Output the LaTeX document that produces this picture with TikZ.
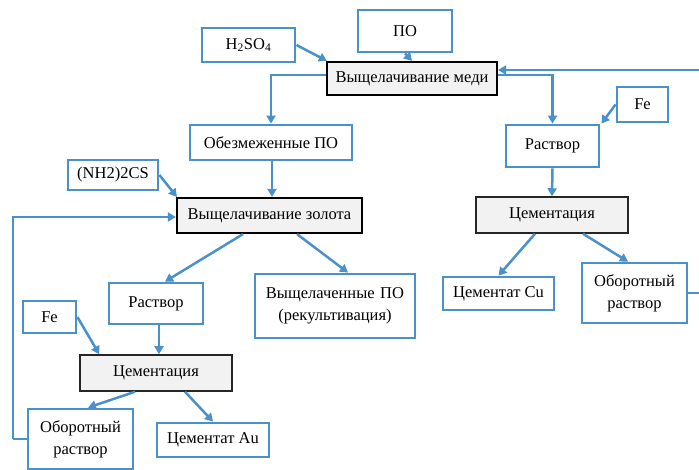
\documentclass[tikz,border=0pt]{standalone}
\usepackage{fontspec}
\setmainfont{Liberation Serif}
\usetikzlibrary{arrows.meta}
\definecolor{flowblue}{RGB}{74,144,202}
\definecolor{procgray}{RGB}{242,242,242}
\begin{document}
\begin{tikzpicture}[x=1pt,y=-1pt,
  every node/.style={font=\fontsize{16.5}{18}\selectfont, inner sep=0pt, align=center},
  itembox/.style={draw=flowblue, line width=2.8pt, fill=white},
  leachbox/.style={draw=black, line width=2.2pt, fill=procgray},
  cembox/.style={draw=black!85, line width=1.5pt, fill=procgray},
  flow/.style={draw=flowblue, line width=2.5pt, -{Triangle[length=8pt,width=9pt]}},
  link/.style={draw=flowblue, line width=2.5pt}]
\useasboundingbox (0,0) rectangle (699,470);

% copper leaching branch
\node[itembox, minimum width=94pt, minimum height=42pt] (po) at (405,31) {ПО};
\node[itembox, minimum width=93pt, minimum height=34pt] (h2so4) at (248.5,45) {H\textsubscript{2}SO\textsubscript{4}};
\node[leachbox, minimum width=170pt, minimum height=33pt] (medi) at (412,78.5) {Выщелачивание меди};
\node[itembox, minimum width=51pt, minimum height=35pt] (feR) at (642.5,104.5) {Fe};
\node[itembox, minimum width=93pt, minimum height=42pt] (rastR) at (552.5,146) {Раствор};
\node[cembox, minimum width=152pt, minimum height=36pt] (cemR) at (552,215) {Цементация};
\node[itembox, minimum width=111pt, minimum height=33pt] (cemCu) at (498.5,293.5) {Цементат Cu};
\node[itembox, minimum width=105pt, minimum height=60pt, text width=100pt] (oborR) at (634.5,293) {Оборотный\\[4pt]раствор};

% gold leaching branch
\node[itembox, minimum width=162pt, minimum height=35pt] (obez) at (271,142.5) {Обезмеженные ПО};
\node[itembox, minimum width=90pt, minimum height=30pt] (nh) at (113,175) {(NH2)2CS};
\node[leachbox, minimum width=185pt, minimum height=35pt] (zolota) at (269.5,215.5) {Выщелачивание золота};
\node[itembox, minimum width=94pt, minimum height=41pt] (rastL) at (156,303.5) {Раствор};
\node[itembox, minimum width=160pt, minimum height=64pt, text width=156pt] (vysh) at (335,306) {Выщелаченные ПО\\[4pt](рекультивация)};
\node[itembox, minimum width=53pt, minimum height=32pt] (feL) at (49.5,317) {Fe};
\node[cembox, minimum width=152pt, minimum height=36pt] (cemL) at (156,373) {Цементация};
\node[itembox, minimum width=105pt, minimum height=60pt, text width=100pt] (oborL) at (80.5,439) {Оборотный\\[4pt]раствор};
\node[itembox, minimum width=112pt, minimum height=34pt] (cemAu) at (213,440) {Цементат Au};

% return loops
\coordinate (rloop) at (708,70);
\coordinate (lloop) at (13,439);

% connectors: copper
\path[flow] (po.south) -- (medi.north);
\path[flow] (h2so4.east) -- ([xshift=1pt]medi.north west);
\path[flow] ([yshift=3.5pt]medi.west) -| (obez.north);
\path[flow] ([yshift=3.5pt]medi.east) -| (rastR.north);
\path[flow] (feR.west) -- ([xshift=1pt]rastR.north east);
\path[flow] (rastR.south) -- (cemR.north);
\path[flow] ([xshift=-17pt]cemR.south) -- (cemCu.north);
\path[flow] ([xshift=31pt]cemR.south) -- ([xshift=-6.5pt]oborR.north);
\path[link] (oborR.east) -| (rloop);
\path[flow] (rloop) -- ([yshift=8.5pt]medi.east);

% connectors: gold
\path[flow] ([xshift=1pt]obez.south) -- ([xshift=2.5pt]zolota.north);
\path[flow] (nh.east) -- ([xshift=1pt]zolota.north west);
\path[flow] ([xshift=-26.5pt]zolota.south) -- ([xshift=9pt]rastL.north);
\path[flow] ([xshift=27.5pt]zolota.south) -- ([xshift=13pt]vysh.north);
\path[flow] ([xshift=3pt]rastL.south) -- ([xshift=3pt]cemL.north);
\path[flow] (feL.east) -- ([xshift=20pt]cemL.north west);
\path[flow] ([xshift=-21pt]cemL.south) -- ([xshift=7.5pt]oborL.north);
\path[flow] ([xshift=29pt]cemL.south) -- (cemAu.north);
\path[link] (oborL.west) -- (lloop);
\path[flow] (lloop) |- ([yshift=-1.5pt]zolota.west);
\end{tikzpicture}
\end{document}
